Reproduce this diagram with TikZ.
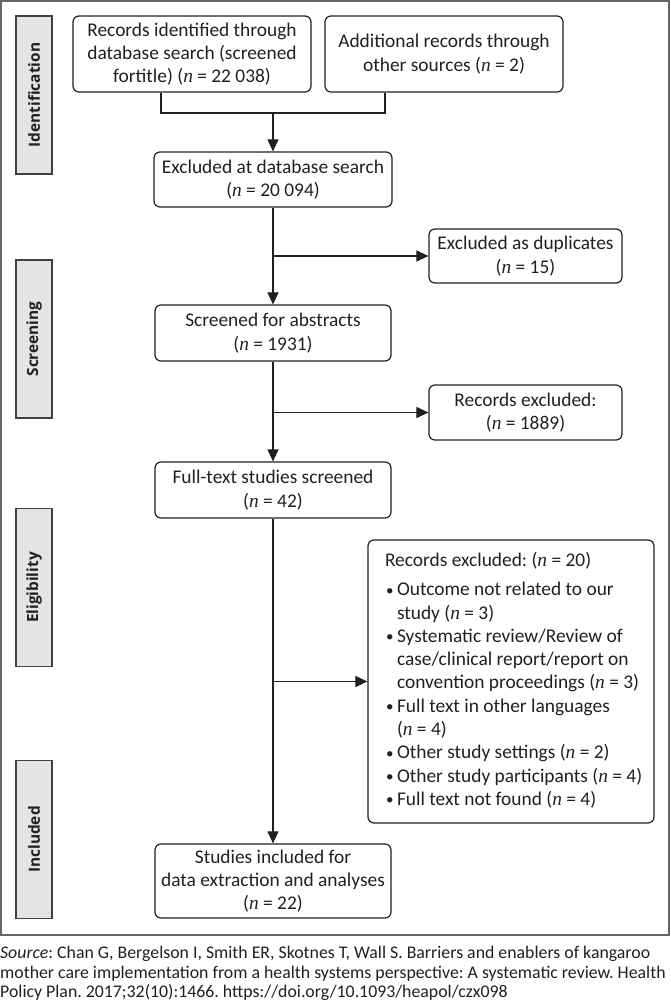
\documentclass[tikz,border=0pt]{standalone}
\usepackage{fontspec}
\setmainfont{Carlito}
\newfontfamily\nfont{Liberation Serif}
\newfontfamily\sidefont{Open Sans}
\usetikzlibrary{arrows.meta}
\frenchspacing
\newcommand{\nn}{{\nfont\itshape n}}
\newcommand{\boxfont}{\fontsize{19.4}{23.3}\selectfont}
\newcommand{\bl}{\makebox[12pt][l]{\hspace{1pt}\raisebox{0.5pt}{\fontsize{15}{15}\selectfont\textbullet}}}
\newcommand{\ind}{\hspace*{12pt}}
\definecolor{ink}{HTML}{231F20}
\definecolor{sidefill}{HTML}{E4E4E4}
\begin{document}
\begin{tikzpicture}[x=1pt,y=-1pt,
  box/.style={draw=ink, line width=1.2pt, rounded corners=6pt, align=center,
    inner sep=0pt, font=\boxfont, text=ink},
  arr/.style={draw=ink, line width=1.1pt, -{Triangle[length=12pt,width=11pt]}},
  conn/.style={draw=ink, line width=1.1pt},
  side/.style={draw=black!75, fill=sidefill, line width=1.8pt, rotate=90,
    minimum width=158pt, minimum height=36pt, inner sep=0pt,
    font=\sidefont\bfseries\fontsize{15.4}{16}\selectfont, text=ink}]
\useasboundingbox (0,0) rectangle (670,1003);
\draw[draw=black!60, line width=1.4pt] (1,1) rectangle (669,935);
% side labels
\node[side] (sid) at (34,95) {Identification};
\node[side] (ssc) at (34,339) {Screening};
\node[side] (sel) at (34,587.5) {Eligibility};
\node[side] (sin) at (34,839.5) {Included};
% boxes
\node[box, minimum width=238pt, minimum height=76pt] (rec) at (192,54)
  {Records identified through\\database search (screened\\fortitle) (\nn{} = 22 038)};
\node[box, minimum width=238pt, minimum height=76pt] (add) at (444,54)
  {Additional records through\\other sources (\nn{} = 2)};
\node[box, minimum width=238pt, minimum height=55pt] (exdb) at (273,179.5)
  {Excluded at database search\\(\nn{} = 20 094)};
\node[box, minimum width=193pt, minimum height=54pt] (dup) at (525.5,256)
  {Excluded as duplicates\\(\nn{} = 15)};
\node[box, minimum width=236pt, minimum height=56pt] (scr) at (273,333)
  {Screened for abstracts\\(\nn{} = 1931)};
\node[box, minimum width=193pt, minimum height=55pt] (rex) at (525.5,412.5)
  {Records excluded:\\(\nn{} = 1889)};
\node[box, minimum width=236pt, minimum height=56pt] (ft) at (273,490)
  {Full-text studies screened\\(\nn{} = 42)};
\node[box, minimum height=283pt, inner xsep=17pt] (big) at (511,681.5)
  {\makebox[252pt][l]{\begin{tabular}{@{}l@{}}
   Records excluded: (\nn{} = 20)\\[5.5pt]
   \bl Outcome not related to our\\
   \ind study (\nn{} = 3)\\
   \bl Systematic review/Review of\\
   \ind case/clinical report/report on\\
   \ind convention proceedings (\nn{} = 3)\\
   \bl Full text in other languages\\
   \ind (\nn{} = 4)\\
   \bl Other study settings (\nn{} = 2)\\
   \bl Other study participants (\nn{} = 4)\\
   \bl Full text not found (\nn{} = 4)
   \end{tabular}}};
\node[box, minimum width=236pt, minimum height=74pt] (inc) at (273,881)
  {Studies included for\\data extraction and analyses\\(\nn{} = 22)};
% connectors
\coordinate (j) at (273,113);
\draw[conn] ([xshift=-31pt]rec.south) |- (j) -| ([xshift=-59pt]add.south);
\draw[arr] (j) -- (exdb.north);
\draw[arr] (exdb.south) -- (scr.north);
\draw[arr] (exdb.south |- dup.west) -- (dup.west);
\draw[arr] (scr.south) -- (ft.north);
\draw[arr] (scr.south |- rex.west) -- (rex.west);
\draw[arr] (ft.south) -- (inc.north);
\draw[arr] (ft.south |- big.west) -- (big.west);
% source
\node[anchor=north west, inner sep=0pt, align=left, text=ink,
  font=\fontsize{17.8}{19.5}\selectfont] (src) at (0,946)
  {\textit{Source}: Chan G, Bergelson I, Smith ER, Skotnes T, Wall S. Barriers and enablers of kangaroo\\
   mother care implementation from a health systems perspective: A systematic review. Health\\
   Policy Plan. 2017;32(10):1466. https://doi.org/10.1093/heapol/czx098};
\end{tikzpicture}
\end{document}
